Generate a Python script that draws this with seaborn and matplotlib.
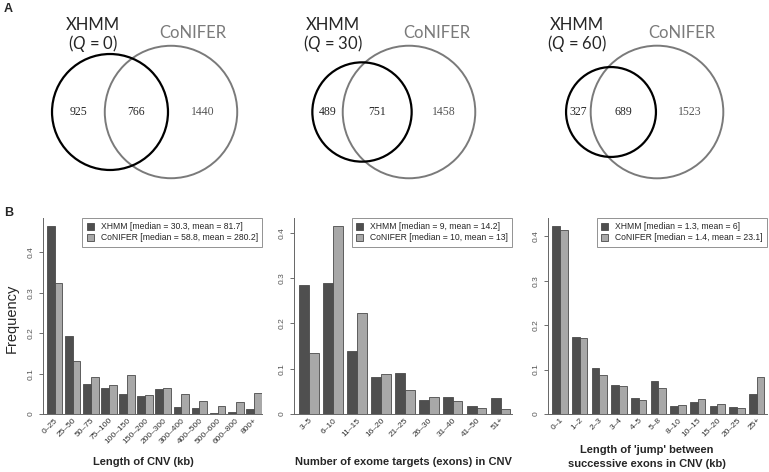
import numpy as np
import pandas as pd
import matplotlib
matplotlib.use("Agg")
import matplotlib.pyplot as plt
from matplotlib.patches import Circle
import seaborn as sns

# Venn counts (panel A)
venn_q = [0, 30, 60]
xhmm_only = [925, 489, 327]
both = [766, 751, 689]
conifer_only = [1440, 1458, 1523]

# Panel B: length of CNV
len_cats = ["0–25", "25–50", "50–75", "75–100", "100–150", "150–200", "200–300",
            "300–400", "400–500", "500–600", "600–800", "800+"]
len_xhmm = [0.466, 0.194, 0.073, 0.064, 0.050, 0.045, 0.063, 0.017, 0.016, 0.003, 0.005, 0.013]
len_conifer = [0.324, 0.132, 0.092, 0.072, 0.097, 0.047, 0.064, 0.050, 0.031, 0.021, 0.029, 0.052]

# number of exons
exon_cats = ["3–5", "6–10", "11–15", "16–20", "21–25", "26–30", "31–40", "41–50", "51+"]
exon_xhmm = [0.285, 0.289, 0.139, 0.082, 0.090, 0.032, 0.0375, 0.017, 0.035]
exon_conifer = [0.135, 0.415, 0.223, 0.089, 0.054, 0.0375, 0.028, 0.014, 0.012]

# jump length
jump_cats = ["0–1", "1–2", "2–3", "3–4", "4–5", "5–8", "8–10", "10–15", "15–20", "20–25", "25+"]
jump_xhmm = [0.424, 0.174, 0.103, 0.066, 0.036, 0.074, 0.018, 0.028, 0.017, 0.016, 0.046]
jump_conifer = [0.413, 0.172, 0.0885, 0.063, 0.0315, 0.059, 0.021, 0.0345, 0.023, 0.0135, 0.084]

legends = [
    ("XHMM [median = 30.3, mean = 81.7]", "CoNIFER [median = 58.8, mean = 280.2]"),
    ("XHMM [median = 9, mean = 14.2]", "CoNIFER [median = 10, mean = 13]"),
    ("XHMM [median = 1.3, mean = 6]", "CoNIFER [median = 1.4, mean = 23.1]"),
]
xlabels = ["Length of CNV (kb)", "Number of exome targets (exons) in CNV",
           "Length of 'jump' between\nsuccessive exons in CNV (kb)"]

sns.set_style("white")
plt.rcParams["font.family"] = ["Liberation Sans", "DejaVu Sans"]
plt.rcParams["mathtext.fontset"] = "custom"
plt.rcParams["mathtext.rm"] = "Lato"
plt.rcParams["mathtext.it"] = "Lato:italic"

W, H = 769, 472
fig = plt.figure(figsize=(W / 100, H / 100), dpi=100)

# ---- panel A: venn diagrams in pixel coordinates
vax = fig.add_axes([0, 0, 1, 1], zorder=0)
vax.set_xlim(0, W)
vax.set_ylim(H, 0)
vax.axis("off")

xc_x = [110, 362, 611]
xc_c = [171, 409, 657]
cy = 112
k = 1.41
lab_x = [93, 333, 577]
lab_c = [193, 437, 682]
for i in range(3):
    r1 = k * np.sqrt(xhmm_only[i] + both[i])
    r2 = k * np.sqrt(conifer_only[i] + both[i])
    vax.add_patch(Circle((xc_c[i], cy), r2, fill=False, ec="#7a7a7a", lw=1.4))
    vax.add_patch(Circle((xc_x[i], cy), r1, fill=False, ec="black", lw=1.6))
    a1, b1 = xc_x[i] - r1, xc_x[i] + r1
    a2, b2 = xc_c[i] - r2, xc_c[i] + r2
    vax.text((a1 + a2) / 2, cy, str(xhmm_only[i]), ha="center", va="center",
             family="Liberation Serif", fontsize=8.5)
    vax.text((a2 + b1) / 2, cy, str(both[i]), ha="center", va="center",
             family="Liberation Serif", fontsize=8.5)
    vax.text((b1 + b2) / 2, cy, str(conifer_only[i]), ha="center", va="center",
             family="Liberation Serif", fontsize=8.5, color="#555555")
    vax.text(lab_x[i], 25, "XHMM", ha="center", va="center", family="Lato", fontsize=12)
    vax.text(lab_x[i], 43, "($\\mathit{Q}$ = %d)" % venn_q[i], ha="center", va="center",
             family="Lato", fontsize=12)
    vax.text(lab_c[i], 33, "CoNIFER", ha="center", va="center", family="Lato",
             fontsize=12, color="#7a7a7a")

fig.text(4 / W, 1 - 9 / H, "A", fontsize=9, fontweight="bold", va="center")
fig.text(4 / W, 1 - 213 / H, "B", fontsize=9, fontweight="bold", va="center")

# ---- panel B: bar charts
panels = [
    (len_cats, len_xhmm, len_conifer, 43, 262, (-0.635, 11.45), 0.485, 0.86, 0.457, -0.245),
    (exon_cats, exon_xhmm, exon_conifer, 294, 512, (-0.63, 8.48), 0.433, 0.82, 0.5, -0.245),
    (jump_cats, jump_xhmm, jump_conifer, 548, 767, (-0.61, 10.52), 0.441, 0.78, 0.452, -0.219),
]
top, bottom = 218, 414
for i, (cats, xv, cv, left, right, xlim, ymax, bw, lx, ly) in enumerate(panels):
    ax = fig.add_axes([left / W, 1 - bottom / H, (right - left) / W, (bottom - top) / H], zorder=2)
    ax.patch.set_alpha(0)
    df = pd.DataFrame({
        "cat": cats * 2,
        "freq": xv + cv,
        "method": [legends[i][0]] * len(cats) + [legends[i][1]] * len(cats),
    })
    sns.barplot(data=df, x="cat", y="freq", hue="method", order=cats,
                palette=["#4f4f4f", "#a8a8a8"], saturation=1, width=bw,
                edgecolor="#4a4a4a", linewidth=0.6, ax=ax)
    ax.set_xlim(*xlim)
    ax.set_ylim(0, ymax)
    ax.set_yticks([0, 0.1, 0.2, 0.3, 0.4])
    ax.set_yticklabels(["0", "0.1", "0.2", "0.3", "0.4"], rotation=90, va="center")
    ax.tick_params(axis="y", length=3, width=0.6, pad=3, labelsize=6, colors="#555555",
                   left=True)
    ax.tick_params(axis="x", length=0, pad=2, labelsize=6, labelcolor="#333333")
    for t in ax.get_xticklabels():
        t.set_rotation(45)
        t.set_ha("right")
        t.set_va("top")
        t.set_rotation_mode("anchor")
    for s in ["top", "right"]:
        ax.spines[s].set_visible(False)
    for s in ["left", "bottom"]:
        ax.spines[s].set_color("#666666")
        ax.spines[s].set_linewidth(0.7)
    ax.set_xlabel(xlabels[i], fontsize=8, fontweight="bold", linespacing=1.5)
    ax.xaxis.label.set_va("center")
    ax.xaxis.set_label_coords(lx, ly)
    if i == 0:
        ax.set_ylabel("Frequency", fontsize=10.5)
        ax.yaxis.label.set_va("center")
        ax.yaxis.set_label_coords(-0.1416, 0.49)
    else:
        ax.set_ylabel("")
    sns.move_legend(ax, "upper right", title=None, frameon=True, fancybox=False,
                    fontsize=6.2, borderaxespad=0, edgecolor="#777777",
                    handlelength=0.8, handleheight=0.8, handletextpad=0.8,
                    borderpad=0.5, labelspacing=0.25)
    ax.get_legend().get_frame().set_linewidth(0.7)

fig.savefig("out.png", dpi=100)
